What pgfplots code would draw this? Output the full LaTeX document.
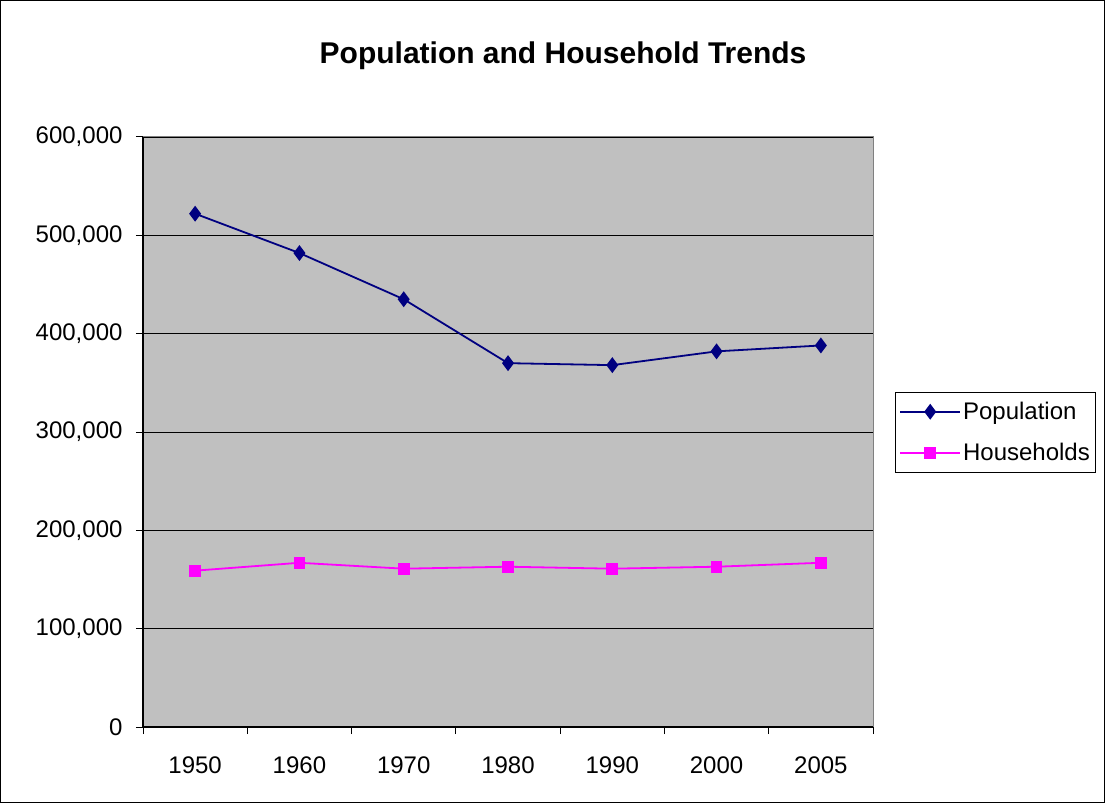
\documentclass[border=0pt]{standalone}
\usepackage{pgfplots}
\pgfplotsset{compat=1.18}
\usepackage{fontspec}
\setmainfont{Liberation Sans}
\definecolor{plotbg}{RGB}{192,192,192}
\definecolor{popc}{RGB}{0,0,128}
\definecolor{hhc}{RGB}{255,0,255}
\definecolor{frameg}{RGB}{128,128,128}
\begin{document}
\begin{tikzpicture}
\draw[black, line width=1pt] (0.5pt,0.5pt) rectangle (1104.5pt,802.5pt);
\node[font=\fontsize{30}{35}\selectfont\bfseries] at (563pt,747pt) {Population and Household Trends};
\begin{axis}[
  at={(143pt,76pt)}, anchor=south west,
  scale only axis, width=730pt, height=590pt,
  xmin=-0.5, xmax=6.5, ymin=0, ymax=600000,
  axis background/.style={fill=plotbg},
  axis x line*=bottom, axis y line*=left,
  axis line style={black, line width=1.2pt},
  xtick={-0.5,0.5,...,6.5},
  xticklabels={1950,1960,1970,1980,1990,2000,2005},
  x tick label as interval,
  ytick={0,100000,...,600000},
  ymajorgrids, grid style={black, line width=0.8pt},
  tick align=outside,
  major tick length=7pt,
  tick style={black, line width=1pt},
  scaled y ticks=false,
  /pgf/number format/assume math mode=true,
  yticklabel={\pgfmathprintnumber[fixed, precision=0, 1000 sep={,}]{\tick}},
  ticklabel style={font=\fontsize{24}{28}\selectfont},
  yticklabel style={xshift=-10pt},
  xticklabel style={yshift=-19pt},
  legend style={at={(1.030,0.568)}, anchor=north west, draw=black, line width=0.8pt,
    font=\fontsize{24}{28}\selectfont, inner xsep=4pt, inner ysep=8pt, row sep=18pt},
  legend cell align=left,
  legend image code/.code={\draw[line width=1.8pt, mark repeat=2,mark phase=2] plot coordinates {(0pt,0pt) (30pt,0pt) (60pt,0pt)};},
  clip=false,
]
\draw[frameg, line width=1pt] (rel axis cs:0,1) -- (rel axis cs:1,1) -- (rel axis cs:1,0);
\addplot[popc, line width=1.8pt, mark=diamond*, mark size=6.5pt, mark options={solid, fill=popc}]
  coordinates {(0,522000) (1,482000) (2,435000) (3,370000) (4,368000) (5,382000) (6,388000)};
\addlegendentry{Population\hspace{23pt}}
\addplot[hhc, line width=1.8pt, mark=square*, mark size=5pt, mark options={solid, fill=hhc}]
  coordinates {(0,159000) (1,167000) (2,161000) (3,163000) (4,161000) (5,163000) (6,167000)};
\addlegendentry{Households\hspace{23pt}}
\end{axis}
\end{tikzpicture}
\end{document}
